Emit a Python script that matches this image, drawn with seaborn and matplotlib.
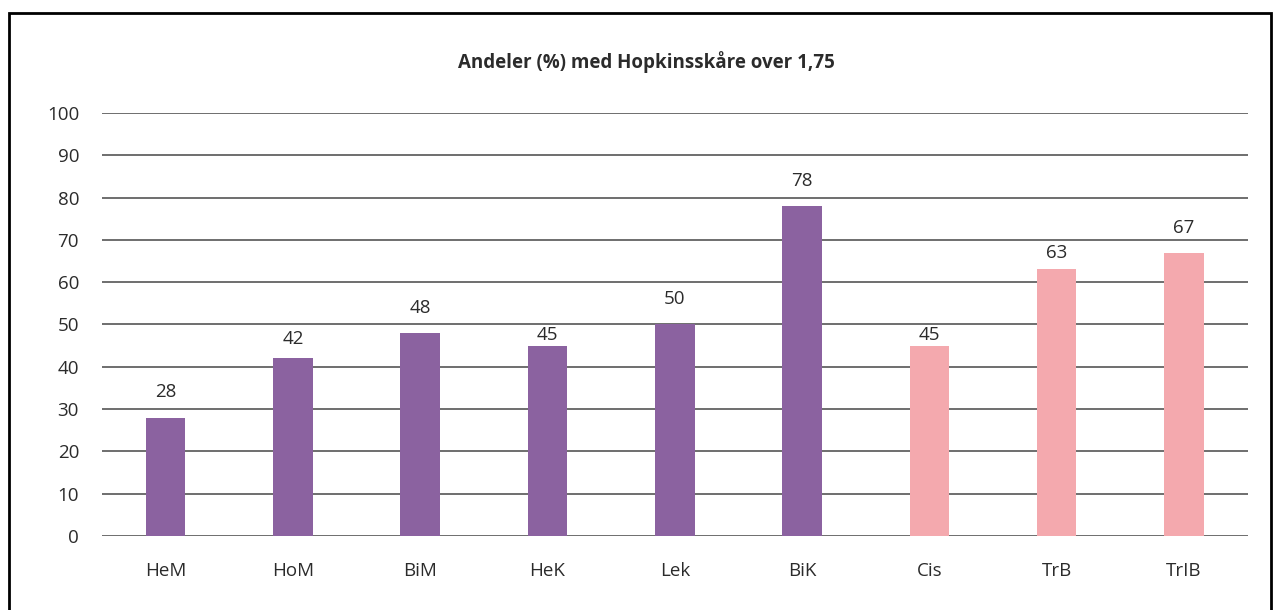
import seaborn as sns
from matplotlib import pyplot as plt
from matplotlib.patches import Rectangle
import pandas as pd

categories = ['HeM', 'HoM', 'BiM', 'HeK', 'Lek', 'BiK', 'Cis', 'TrB', 'TrIB']
values = [28, 42, 48, 45, 50, 78, 45, 63, 67]
groups = ['cis', 'cis', 'cis', 'cis', 'cis', 'cis', 'trans', 'trans', 'trans']
y_ticks = [0, 10, 20, 30, 40, 50, 60, 70, 80, 90, 100]
title = 'Andeler (%) med Hopkinsskåre over 1,75'

# the value labels in the original sit at uneven heights above the bars
label_pads = [11.7, 7.4, 11.7, 0.9, 11.7, 11.7, 0.9, 5.3, 11]

palette = {'cis': '#8B62A0', 'trans': '#F4A9AE'}
text_color = '#2b2b2b'

df = pd.DataFrame({'cat': categories, 'val': values, 'grp': groups})

sns.set_theme(style='white')
plt.rcParams['font.family'] = ['Open Sans', 'DejaVu Sans']

fig = plt.figure(figsize=(12.73, 6.10), dpi=100)
ax = fig.add_axes([0.0801, 0.1213, 0.9, 0.6935])

ax.set_axisbelow(True)
for t in y_ticks:
    ax.axhline(t, color='#555555', linewidth=1.2, zorder=0)

sns.barplot(data=df, x='cat', y='val', hue='grp', palette=palette, dodge=False,
            width=0.31, legend=False, ax=ax, saturation=1, zorder=2, linewidth=0)

bars = sorted([p for c in ax.containers for p in c], key=lambda p: p.get_x())
for bar, pad in zip(bars, label_pads):
    ax.annotate('{:.0f}'.format(bar.get_height()),
                (bar.get_x() + bar.get_width() / 2, bar.get_height()),
                xytext=(0, pad), textcoords='offset points',
                ha='center', va='bottom', fontsize=13.5, color=text_color)

ax.set_ylim(0, 100)
ax.set_xlim(-0.5, len(categories) - 0.5)
ax.set_yticks(y_ticks)
ax.set_yticklabels([str(t) for t in y_ticks])
ax.tick_params(axis='y', length=0, pad=16.5, labelsize=13.5, labelcolor=text_color)
ax.tick_params(axis='x', length=0, pad=19, labelsize=13.5, labelcolor=text_color)
ax.set_xlabel('')
ax.set_ylabel('')
for s in ax.spines.values():
    s.set_visible(False)

fig.text(646 / 1273, 1 - 62 / 610, title, ha='center', va='center', fontsize=13.5,
         fontweight='bold', color=text_color)

fig.patches.append(Rectangle((9 / 1273, -0.1), (1271 - 9) / 1273, 1.1 - 13 / 610,
                             transform=fig.transFigure, fill=False,
                             edgecolor='black', linewidth=2))

fig.savefig('out.png', dpi=100)
